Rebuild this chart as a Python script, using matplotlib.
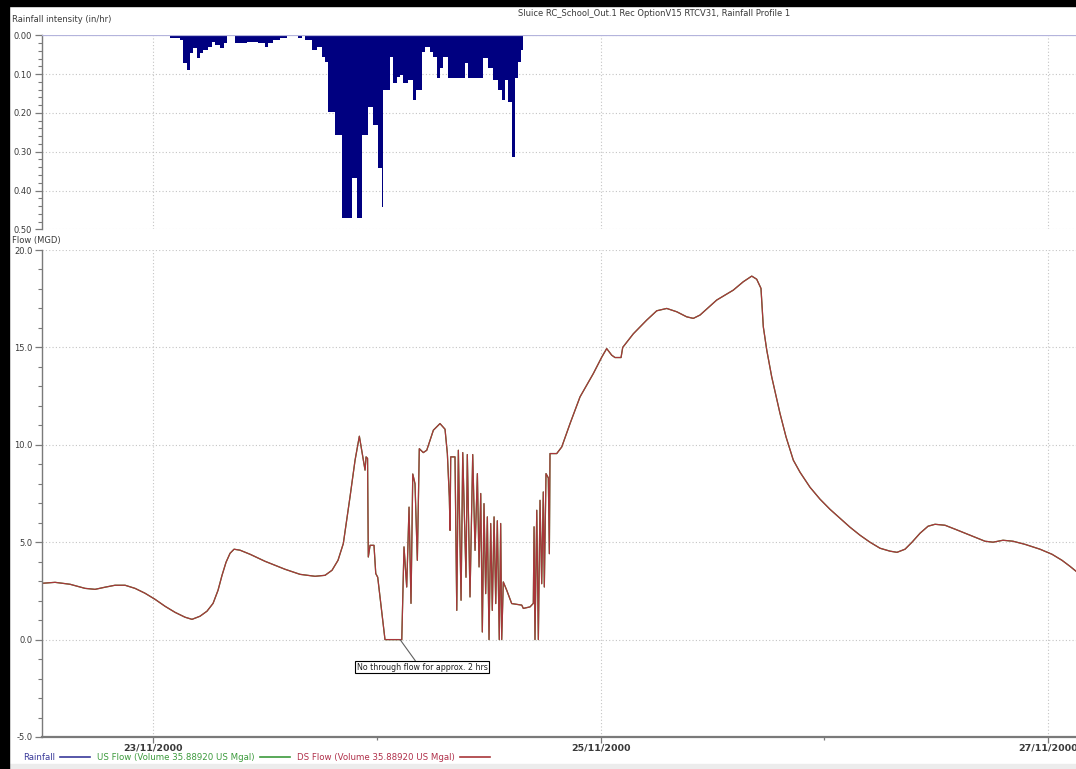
import datetime as dt
import numpy as np
import matplotlib
matplotlib.use("Agg")
import matplotlib.pyplot as plt
import matplotlib.dates as mdates
from matplotlib.lines import Line2D
from matplotlib.patches import Rectangle
from matplotlib.ticker import MultipleLocator, FormatStrFormatter

START = dt.datetime(2000, 11, 23)
TITLE = "Sluice RC_School_Out.1 Rec OptionV15 RTCV31, Rainfall Profile 1"

# rainfall profile: step edges (hours after 23/11/2000 00:00) and intensity (in/hr)
RAIN_EDGES_H = [1.82, 2.90, 3.25, 3.61, 3.97, 4.33, 4.68, 5.04, 5.40, 5.94,
                6.29, 6.65, 7.19, 7.62, 7.90, 8.80, 10.05, 11.30, 12.01, 12.37,
                12.91, 13.62, 14.34, 15.59, 15.95, 16.30, 17.02, 17.56, 18.09, 18.45,
                18.81, 19.52, 20.24, 21.31, 21.85, 22.38, 23.10, 23.56, 24.17, 24.53,
                24.71, 25.42, 25.78, 26.14, 26.49, 26.85, 27.39, 27.92, 28.21, 28.82,
                29.17, 29.71, 30.07, 30.43, 30.78, 31.14, 31.68, 33.47, 33.82, 35.43,
                35.97, 36.50, 37.04, 37.40, 37.76, 38.11, 38.47, 38.83, 39.19, 39.44,
                39.72]
RAIN_IN_HR = [0.008, 0.012, 0.072, 0.090, 0.046, 0.033, 0.059, 0.046, 0.037, 0.029,
              0.016, 0.025, 0.032, 0.021, 0.0, 0.021, 0.016, 0.021, 0.029, 0.021,
              0.012, 0.008, 0.0, 0.008, 0.0, 0.012, 0.037, 0.029, 0.055, 0.068,
              0.197, 0.257, 0.472, 0.369, 0.472, 0.257, 0.184, 0.231, 0.343, 0.442,
              0.141, 0.055, 0.124, 0.107, 0.103, 0.124, 0.115, 0.167, 0.141, 0.042,
              0.029, 0.042, 0.055, 0.111, 0.085, 0.055, 0.111, 0.072, 0.111, 0.059,
              0.085, 0.115, 0.141, 0.167, 0.115, 0.171, 0.313, 0.111, 0.068, 0.037]

# flow through the sluice (hours after 23/11/2000 00:00, MGD)
FLOW_H = [-11.91, -10.51, -8.90, -7.29, -6.22, -5.15, -4.08, -3.00, -1.93, -0.86,
          0.21, 1.29, 2.36, 3.43, 4.18, 5.04, 5.79, 6.44, 6.97, 7.40,
          7.83, 8.26, 8.69, 9.33, 10.41, 12.01, 14.16, 15.77, 17.38, 18.45,
          19.20, 19.84, 20.41, 21.13, 21.67, 22.13, 22.56, 22.74, 22.85, 23.01,
          23.09, 23.28, 23.70, 23.89, 24.10, 24.88, 26.68, 26.92, 27.21, 27.46,
          27.67, 27.86, 28.10, 28.35, 28.56, 28.99, 29.36, 30.07, 30.78, 31.32,
          31.57, 31.78, 31.86, 31.93, 32.39, 32.58, 32.75, 33.04, 33.22, 33.57,
          33.71, 34.00, 34.29, 34.54, 34.79, 34.97, 35.15, 35.32, 35.50, 35.68,
          35.86, 36.04, 36.22, 36.39, 36.58, 36.76, 36.93, 37.14, 37.29, 37.40,
          37.57, 37.94, 38.47, 39.55, 39.72, 40.44, 40.79, 40.87, 40.97, 41.16,
          41.33, 41.51, 41.69, 41.86, 41.97, 42.15, 42.40, 42.51, 42.58, 43.30,
          43.84, 44.73, 45.80, 47.23, 48.13, 48.66, 49.20, 49.55, 50.20, 50.38,
          51.52, 52.95, 54.03, 55.10, 56.17, 57.24, 57.95, 58.67, 60.46, 62.24,
          63.31, 64.22, 64.75, 65.21, 65.46, 65.83, 66.36, 67.25, 67.90, 68.68,
          69.40, 70.47, 71.54, 72.61, 73.69, 74.76, 75.83, 76.90, 77.98, 79.05,
          79.80, 80.66, 81.41, 82.27, 83.13, 83.88, 84.95, 86.02, 87.10, 88.17,
          89.24, 90.10, 91.17, 92.24, 93.53, 95.14, 96.43, 97.50, 98.36, 99.00]
FLOW_MGD = [2.89, 2.94, 2.84, 2.63, 2.58, 2.69, 2.79, 2.79, 2.63, 2.38,
            2.07, 1.71, 1.40, 1.15, 1.04, 1.20, 1.46, 1.86, 2.53, 3.30,
            3.97, 4.43, 4.64, 4.59, 4.38, 4.02, 3.61, 3.35, 3.25, 3.30,
            3.56, 4.07, 4.93, 7.33, 9.21, 10.44, 9.2, 8.7, 9.38, 9.3,
            4.24, 4.84, 4.84, 3.39, 3.2, 0.0, 0.0, 4.76, 2.7, 6.8,
            1.86, 8.5, 8.0, 4.07, 9.8, 9.6, 9.72, 10.75, 11.09, 10.8,
            9.55, 7.32, 5.61, 9.38, 9.38, 1.5, 9.72, 2.02, 9.6, 3.2,
            9.5, 2.19, 9.5, 4.58, 8.52, 3.73, 7.5, 0.39, 6.98, 2.36,
            6.3, 0.0, 5.96, 1.5, 6.3, 1.85, 6.1, 0.0, 5.96, 0.0,
            2.96, 2.53, 1.85, 1.77, 1.6, 1.68, 1.86, 5.79, 0.0, 6.64,
            0.0, 7.15, 2.87, 7.58, 2.7, 8.52, 8.3, 4.41, 9.55, 9.55,
            9.89, 11.09, 12.46, 13.66, 14.5, 14.94, 14.6, 14.48, 14.48, 15.0,
            15.7, 16.4, 16.88, 17.0, 16.83, 16.57, 16.49, 16.66, 17.43, 17.94,
            18.37, 18.66, 18.5, 18.03, 16.06, 14.86, 13.49, 11.61, 10.4, 9.21,
            8.59, 7.82, 7.21, 6.69, 6.23, 5.77, 5.36, 5.0, 4.69, 4.54,
            4.48, 4.64, 5.0, 5.46, 5.82, 5.92, 5.87, 5.67, 5.46, 5.25,
            5.05, 5.0, 5.10, 5.05, 4.89, 4.64, 4.38, 4.07, 3.76, 3.51]

VIEW_H = [-11.91, 99.0]
NOTE_AT_H, NOTE_TEXT_H, NOTE_TEXT_Y = 26.5, 28.85, -1.42


def to_num(hours):
    return mdates.date2num([START + dt.timedelta(hours=h) for h in hours])


W, H = 1076, 769
fig = plt.figure(figsize=(W / 100, H / 100), dpi=100)
fig.patch.set_facecolor("white")

ax_r = fig.add_axes([42 / W, 1 - 229.3 / H, 1 - 42 / W, (229.3 - 35.3) / H])
ax_f = fig.add_axes([42 / W, 1 - 737 / H, 1 - 42 / W, (737 - 250) / H])

grid_kw = dict(color="#c4c4c4", linestyle=(0, (1, 2)), linewidth=0.8)
tick_col = "#7a7a7a"
lab_col = "#3a3a3a"

# rainfall hyetograph, hanging from the top
ax_r.stairs(RAIN_IN_HR, to_num(RAIN_EDGES_H), fill=True, color="#000080", baseline=0)
ax_r.axhline(0, color="#b4b4dc", lw=1.6, zorder=3)
ax_r.set_ylim(0.5, 0.0)
ax_r.yaxis.set_major_locator(MultipleLocator(0.1))
ax_r.yaxis.set_minor_locator(MultipleLocator(0.02))
ax_r.yaxis.set_major_formatter(FormatStrFormatter("%.2f"))

# flow hydrograph (US and DS coincide)
t = to_num(FLOW_H)
ax_f.plot(t, FLOW_MGD, color="#3c9a3c", lw=0.9)
ax_f.plot(t, FLOW_MGD, color="#a8363a", lw=0.9)
ax_f.set_ylim(-5, 20)
ax_f.yaxis.set_major_locator(MultipleLocator(5))
ax_f.yaxis.set_minor_locator(MultipleLocator(1))
ax_f.yaxis.set_major_formatter(FormatStrFormatter("%.1f"))

for ax in (ax_r, ax_f):
    ax.set_xlim(*to_num(VIEW_H))
    ax.xaxis.set_major_locator(mdates.DayLocator(bymonthday=[23, 25, 27]))
    ax.xaxis.set_minor_locator(mdates.DayLocator())
    ax.xaxis.set_major_formatter(mdates.DateFormatter("%d/%m/%Y"))
    ax.grid(True, which="major", **grid_kw)
    ax.set_axisbelow(True)
    for s in ("top", "right", "bottom"):
        ax.spines[s].set_visible(False)
    ax.spines["left"].set_color(tick_col)
    ax.spines["left"].set_linewidth(1.0)
    ax.tick_params(axis="y", which="major", length=5, width=0.9, color=tick_col,
                   labelsize=6, labelcolor=lab_col, pad=2)
    ax.tick_params(axis="y", which="minor", length=3, width=0.8, color=tick_col)

ax_r.tick_params(axis="x", which="both", bottom=False, labelbottom=False)
ax_f.spines["bottom"].set_visible(True)
ax_f.spines["bottom"].set_color(tick_col)
ax_f.spines["bottom"].set_linewidth(1.6)
ax_f.tick_params(axis="x", which="major", length=4, width=0.9, color=tick_col,
                 labelsize=6.8, labelcolor=lab_col, pad=0.5)
ax_f.tick_params(axis="x", which="minor", length=2, width=0.9, color=tick_col)
for lab in ax_f.get_xticklabels():
    lab.set_fontweight("bold")

ax_f.annotate("No through flow for approx. 2 hrs",
              xy=(to_num([NOTE_AT_H])[0], 0.0),
              xytext=(to_num([NOTE_TEXT_H])[0], NOTE_TEXT_Y),
              ha="center", va="center", fontsize=5.7, color="#202020",
              bbox=dict(boxstyle="square,pad=0.2", fc="white", ec="black", lw=0.8),
              arrowprops=dict(arrowstyle="-", color="#606060", lw=0.8,
                              relpos=(0.46, 1.0), shrinkA=0, shrinkB=0))

fig.text(654 / W, 1 - 14 / H, TITLE, ha="center", va="center", fontsize=6, color=lab_col)
fig.text(12 / W, 1 - 20 / H, "Rainfall intensity (in/hr)", ha="left", va="center",
         fontsize=6, color=lab_col)
fig.text(12 / W, 1 - 240 / H, "Flow (MGD)", ha="left", va="center",
         fontsize=6, color=lab_col)

handles = [Line2D([], [], color="#3a3a9a", lw=1.2),
           Line2D([], [], color="#3c9a3c", lw=1.2),
           Line2D([], [], color="#a8363a", lw=1.2)]
labels = ["Rainfall", "US Flow (Volume 35.88920 US Mgal)",
          "DS Flow (Volume 35.88920 US Mgal)"]
fig.legend(handles, labels, loc="center left", bbox_to_anchor=(23 / W, 1 - 758 / H),
           ncol=3, frameon=False, markerfirst=False, fontsize=6.2,
           handlelength=3.5, handletextpad=0.6, columnspacing=0.8,
           borderpad=0, borderaxespad=0,
           labelcolor=["#3a3a9a", "#3c9a3c", "#b0304a"])

# window frame: black edges and status strip
fig.add_artist(Rectangle((0, 0), 8.5 / W, 1, transform=fig.transFigure,
                         color="black", zorder=10))
fig.add_artist(Rectangle((0, 1 - 5.5 / H), 1, 5.5 / H, transform=fig.transFigure,
                         color="black", zorder=10))
fig.add_artist(Rectangle((8.5 / W, 0), 1, 5 / H, transform=fig.transFigure,
                         color="#ececec", zorder=9))

fig.savefig("out.png", dpi=100)
